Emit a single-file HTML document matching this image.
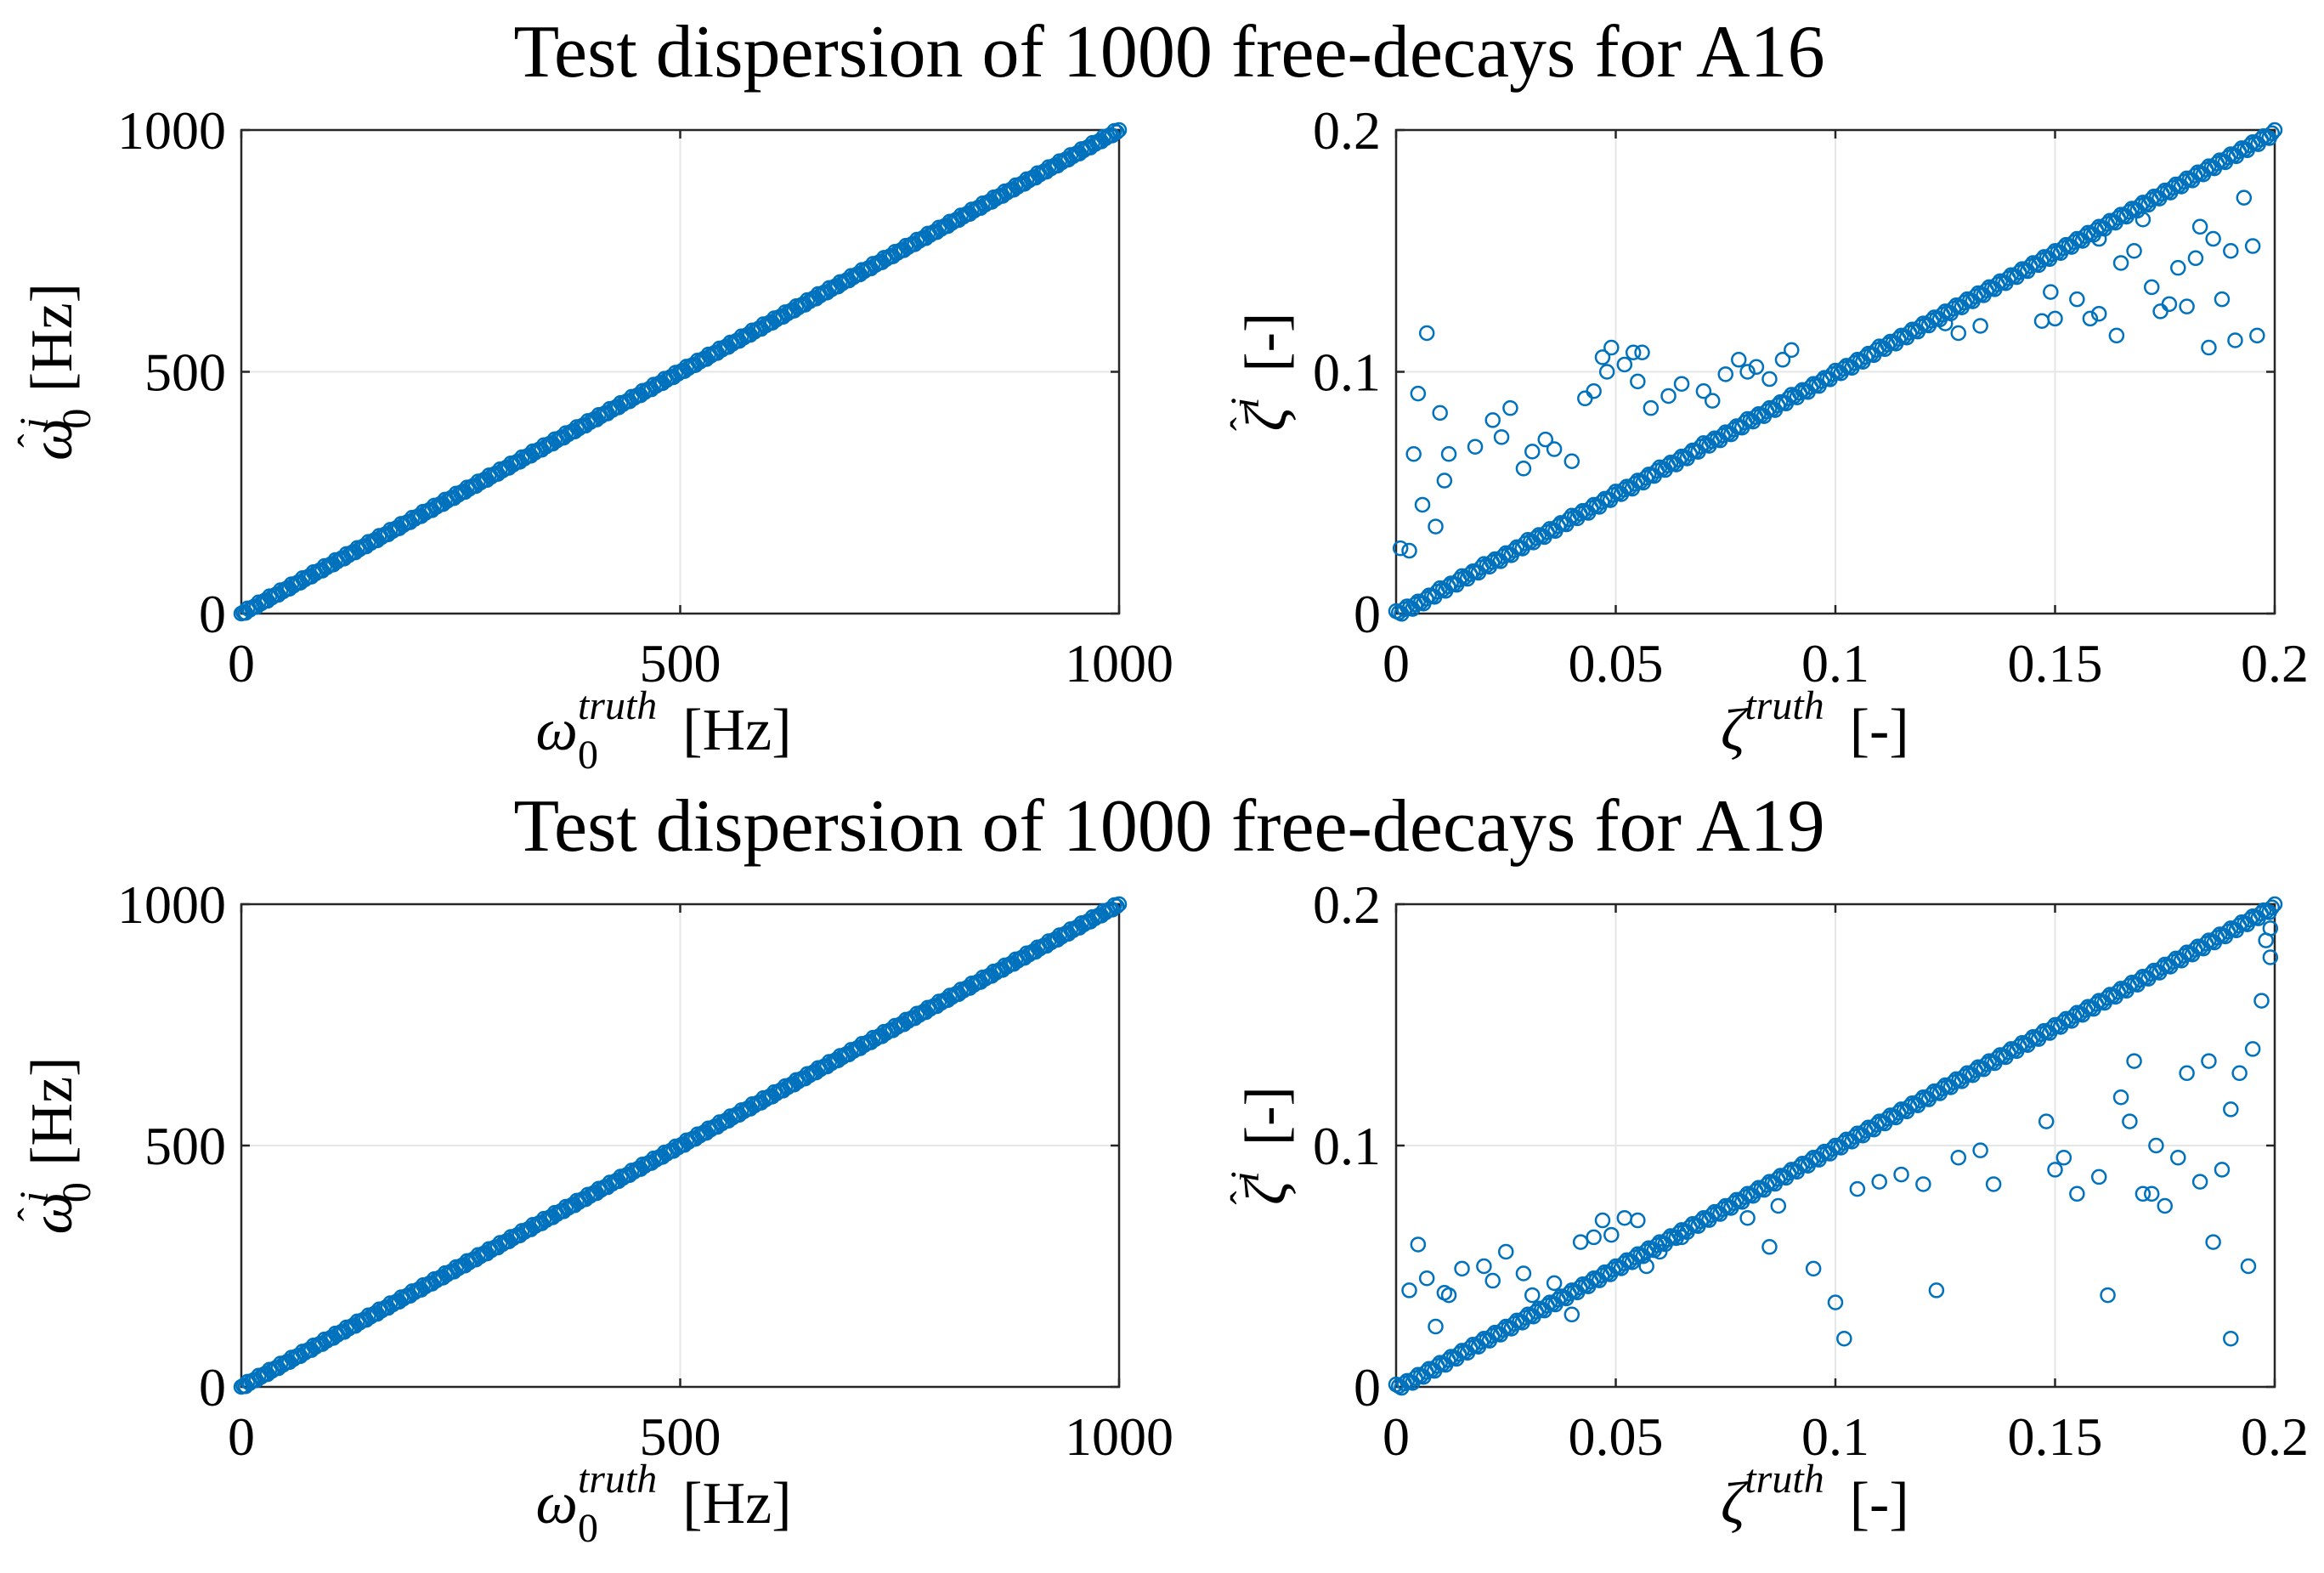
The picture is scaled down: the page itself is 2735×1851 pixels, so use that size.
<!DOCTYPE html>
<html><head><meta charset="utf-8">
<style>
html,body{margin:0;padding:0;background:#fff;}
svg{display:block;}
text{font-family:"Liberation Serif",serif;fill:#000;}
</style></head>
<body>
<svg id="fig" width="2735" height="1851" viewBox="0 0 2735 1851" xmlns="http://www.w3.org/2000/svg">
<text x="1376" y="90" font-size="88" text-anchor="middle">Test dispersion of 1000 free-decays for A16</text>
<text x="1376" y="1001" font-size="88" text-anchor="middle">Test dispersion of 1000 free-decays for A19</text>
</svg>
<script>
// ---- data ----
const omegaTruth = [0,12,25,37,50,62,75,87,100,112,125,137,150,162,175,187,200,212,225,237,250,262,275,287,300,312,325,337,350,362,375,387,400,412,425,437,450,462,475,487,500,512,525,537,550,562,575,587,600,612,625,637,650,662,675,687,700,712,725,737,750,762,775,787,800,812,825,837,850,862,875,887,900,912,925,937,950,962,975,987,1000];
const omegaEstA16 = [0,12,25,37,50,62,75,87,100,112,125,137,150,162,175,187,200,212,225,237,250,262,275,287,300,312,325,337,350,362,375,387,400,412,425,437,450,462,475,487,500,512,525,537,550,562,575,587,600,612,625,637,650,662,675,687,700,712,725,737,750,762,775,787,800,812,825,837,850,862,875,887,900,912,925,937,950,962,975,987,1000];
const omegaEstA19 = [0,12,25,37,50,62,75,87,100,112,125,137,150,162,175,187,200,212,225,237,250,262,275,287,300,312,325,337,350,362,375,387,400,412,425,437,450,462,475,487,500,512,525,537,550,562,575,587,600,612,625,637,650,662,675,687,700,712,725,737,750,762,775,787,800,812,825,837,850,862,875,887,900,912,925,937,950,962,975,987,1000];
const zetaTruth = [0,0.0025,0.005,0.0075,0.01,0.0125,0.015,0.0175,0.02,0.0225,0.025,0.0275,0.03,0.0325,0.035,0.0375,0.04,0.0425,0.045,0.0475,0.05,0.0525,0.055,0.0575,0.06,0.0625,0.065,0.0675,0.07,0.0725,0.075,0.0775,0.08,0.0825,0.085,0.0875,0.09,0.0925,0.095,0.0975,0.1,0.1025,0.105,0.1075,0.11,0.1125,0.115,0.1175,0.12,0.1225,0.125,0.1275,0.13,0.1325,0.135,0.1375,0.14,0.1425,0.145,0.1475,0.15,0.1525,0.155,0.1575,0.16,0.1625,0.165,0.1675,0.17,0.1725,0.175,0.1775,0.18,0.1825,0.185,0.1875,0.19,0.1925,0.195,0.1975,0.2];
const zetaEstA16 = [0.001,0.003,0.005,0.0075,0.0105,0.0125,0.0155,0.0175,0.0205,0.0225,0.025,0.0275,0.0305,0.0325,0.035,0.0375,0.0405,0.0425,0.045,0.0475,0.0505,0.0525,0.055,0.0575,0.0605,0.0625,0.065,0.0675,0.0705,0.0725,0.075,0.0775,0.0805,0.0825,0.085,0.0875,0.0905,0.0925,0.095,0.0975,0.1005,0.1025,0.105,0.1075,0.1105,0.1125,0.115,0.1175,0.12,0.1225,0.125,0.1275,0.13,0.1325,0.135,0.1375,0.14,0.1425,0.145,0.1475,0.15,0.1525,0.155,0.1575,0.16,0.1625,0.165,0.1675,0.17,0.1725,0.175,0.1775,0.18,0.1825,0.185,0.1875,0.19,0.1925,0.195,0.1975,0.2];
const zetaEstA19 = [0.001,0.0025,0.005,0.0075,0.01,0.0125,0.015,0.0175,0.02,0.0225,0.025,0.0275,0.03,0.0325,0.035,0.0375,0.04,0.0425,0.045,0.0475,0.05,0.0525,0.055,0.0575,0.06,0.0625,0.065,0.0675,0.07,0.0725,0.075,0.0775,0.08,0.0825,0.085,0.0875,0.09,0.0925,0.095,0.0975,0.1,0.1025,0.105,0.1075,0.11,0.1125,0.115,0.1175,0.12,0.1225,0.125,0.1275,0.13,0.1325,0.135,0.1375,0.14,0.1425,0.145,0.1475,0.15,0.1525,0.155,0.1575,0.16,0.1625,0.165,0.1675,0.17,0.1725,0.175,0.1775,0.18,0.1825,0.185,0.1875,0.19,0.1925,0.195,0.1975,0.2];
const outA16x = [0.007,0.005,0.010,0.004,0.012,0.011,0.006,0.009,0.003,0.001,0.018,0.022,0.026,0.024,0.029,0.031,0.034,0.036,0.040,0.043,0.045,0.047,0.049,0.048,0.052,0.054,0.056,0.055,0.058,0.062,0.065,0.070,0.072,0.075,0.078,0.080,0.082,0.085,0.088,0.090,0.125,0.128,0.133,0.147,0.149,0.150,0.155,0.158,0.160,0.164,0.168,0.172,0.174,0.176,0.178,0.180,0.182,0.183,0.186,0.188,0.190,0.191,0.193,0.195,0.196,0.170,0.165,0.160,0.185];
const outA16y = [0.116,0.091,0.083,0.066,0.066,0.055,0.045,0.036,0.026,0.027,0.069,0.080,0.085,0.073,0.060,0.067,0.072,0.068,0.063,0.089,0.092,0.106,0.110,0.100,0.103,0.108,0.108,0.096,0.085,0.090,0.095,0.092,0.088,0.099,0.105,0.100,0.102,0.097,0.105,0.109,0.120,0.116,0.119,0.121,0.133,0.122,0.130,0.122,0.124,0.115,0.150,0.135,0.125,0.128,0.143,0.127,0.147,0.160,0.155,0.130,0.150,0.113,0.172,0.152,0.115,0.163,0.145,0.155,0.110];
const outA19x = [0.005,0.003,0.007,0.009,0.011,0.012,0.015,0.020,0.022,0.025,0.029,0.031,0.036,0.040,0.042,0.045,0.047,0.049,0.052,0.055,0.057,0.060,0.065,0.080,0.085,0.087,0.095,0.100,0.102,0.105,0.110,0.115,0.120,0.123,0.128,0.133,0.136,0.148,0.150,0.152,0.155,0.160,0.162,0.165,0.167,0.168,0.170,0.172,0.173,0.175,0.178,0.180,0.183,0.185,0.186,0.188,0.190,0.190,0.192,0.194,0.195,0.197,0.198,0.199,0.199];
const outA19y = [0.059,0.040,0.045,0.025,0.039,0.038,0.049,0.050,0.044,0.056,0.047,0.038,0.043,0.030,0.060,0.062,0.069,0.063,0.070,0.069,0.050,0.056,0.062,0.070,0.058,0.075,0.049,0.035,0.020,0.082,0.085,0.088,0.084,0.040,0.095,0.098,0.084,0.110,0.090,0.095,0.080,0.087,0.038,0.120,0.110,0.135,0.080,0.080,0.100,0.075,0.095,0.130,0.085,0.135,0.060,0.090,0.115,0.020,0.130,0.050,0.140,0.160,0.185,0.178,0.190];
const omegaTicks = [0,500,1000];
const zetaTicks = [0,0.05,0.1,0.15,0.2];
const zetaYTicks = [0,0.1,0.2];

const NS='http://www.w3.org/2000/svg';
const svg=document.getElementById('fig');
function mk(tag,attrs,parent){const e=document.createElementNS(NS,tag);for(const k in attrs)e.setAttribute(k,attrs[k]);(parent||svg).appendChild(e);return e;}
const BLUE='#0072BD';

function panel(name,box,xmax,ymax,xt,yt,xs,ys,outx,outy,isOmega){
  const g=mk('g',{});
  
  
  const sx=v=>box.x0+(v/xmax)*(box.x1-box.x0);
  const sy=v=>box.y1-(v/ymax)*(box.y1-box.y0);
  xt.forEach(t=>{const l=mk('line',{x1:sx(t),x2:sx(t),y1:box.y0,y2:box.y1,stroke:'#e6e6e6','stroke-width':2},g);
    
    });
  yt.forEach(t=>{const l=mk('line',{x1:box.x0,x2:box.x1,y1:sy(t),y2:sy(t),stroke:'#e6e6e6','stroke-width':2},g);
    
    });
  const r=mk('rect',{x:box.x0,y:box.y0,width:box.x1-box.x0,height:box.y1-box.y0,fill:'none',stroke:'#262626','stroke-width':2.5},g);
  
  
  xt.forEach(t=>{
    mk('line',{x1:sx(t),x2:sx(t),y1:box.y1,y2:box.y1-10,stroke:'#262626','stroke-width':2.5},g);
    mk('line',{x1:sx(t),x2:sx(t),y1:box.y0,y2:box.y0+10,stroke:'#262626','stroke-width':2.5},g);
    const tx=mk('text',{x:sx(t),y:box.y1+80,'font-size':64,'text-anchor':'middle'},g);
    tx.textContent=String(t);
    
    
  });
  yt.forEach(t=>{
    mk('line',{x1:box.x0,x2:box.x0+10,y1:sy(t),y2:sy(t),stroke:'#262626','stroke-width':2.5},g);
    mk('line',{x1:box.x1,x2:box.x1-10,y1:sy(t),y2:sy(t),stroke:'#262626','stroke-width':2.5},g);
    const tx=mk('text',{x:box.x0-18,y:sy(t)+22,'font-size':64,'text-anchor':'end'},g);
    tx.textContent=String(t);
    
    
  });
  const pts=mk('g',{fill:'none',stroke:BLUE,'stroke-width':2.5},g);
  
  
  const allx=xs.concat(outx), ally=ys.concat(outy);
  for(let i=0;i<allx.length;i++){
    const c=mk('circle',{cx:sx(allx[i]),cy:sy(ally[i]),r:8},pts);
    
    
  }
  // dense fill between listed diagonal points
  const subs=isOmega?[0.2,0.4,0.6,0.8]:[0.25,0.5,0.75];
  const offs=isOmega?[0,2,-2,1]:[3,6,2];
  for(let i=0;i<xs.length-1;i++){
    subs.forEach((f,k)=>{
      const c=mk('circle',{cx:sx(xs[i])+f*(sx(xs[i+1])-sx(xs[i])),cy:sy(ys[i])+f*(sy(ys[i+1])-sy(ys[i]))+offs[k],r:8},pts);
      
      
    });
  }
  const cx=(box.x0+box.x1)/2;
  const xl=mk('text',{x:isOmega?cx-170:cx-135,y:box.y1+160,'font-size':70},g);
  
  
  if(isOmega){
    xl.innerHTML='<tspan font-style="italic">ω</tspan><tspan font-size="48" dy="22">0</tspan><tspan font-size="48" font-style="italic" dx="-24" dy="-58">truth</tspan><tspan dy="36" dx="30">[Hz]</tspan>';
  } else {
    xl.innerHTML='<tspan font-style="italic">ζ</tspan><tspan font-size="48" font-style="italic" dy="-36">truth</tspan><tspan dy="36" dx="30">[-]</tspan>';
  }
  const cy=(box.y0+box.y1)/2;
  const yx=box.x0-(isOmega?200:130);
  const yl=mk('text',{x:yx,y:cy,'font-size':70,'text-anchor':'middle',transform:`rotate(-90 ${yx} ${cy})`},g);
  
  
  if(isOmega){
    yl.innerHTML='<tspan font-style="italic">ω</tspan><tspan font-size="48" dx="-34" dy="-30">ˆ</tspan><tspan font-size="48" dx="6" dy="52">0</tspan><tspan font-size="48" font-style="italic" dx="-24" dy="-50">i</tspan><tspan dy="28" dx="30">[Hz]</tspan>';
  } else {
    yl.innerHTML='<tspan font-style="italic">ζ</tspan><tspan font-size="48" dx="-28" dy="-32">ˆ</tspan><tspan font-size="48" font-style="italic" dx="10" dy="0">i</tspan><tspan dy="32" dx="30">[-]</tspan>';
  }
}
panel('omega-panel-a16',{x0:284,x1:1317,y0:153,y1:722},1000,1000,omegaTicks,omegaTicks,omegaTruth,omegaEstA16,[],[],true);
panel('zeta-panel-a16',{x0:1643,x1:2677,y0:153,y1:722},0.2,0.2,zetaTicks,zetaYTicks,zetaTruth,zetaEstA16,outA16x,outA16y,false);
panel('omega-panel-a19',{x0:284,x1:1317,y0:1064,y1:1632},1000,1000,omegaTicks,omegaTicks,omegaTruth,omegaEstA19,[],[],true);
panel('zeta-panel-a19',{x0:1643,x1:2677,y0:1064,y1:1632},0.2,0.2,zetaTicks,zetaYTicks,zetaTruth,zetaEstA19,outA19x,outA19y,false);
</script>
</body></html>
